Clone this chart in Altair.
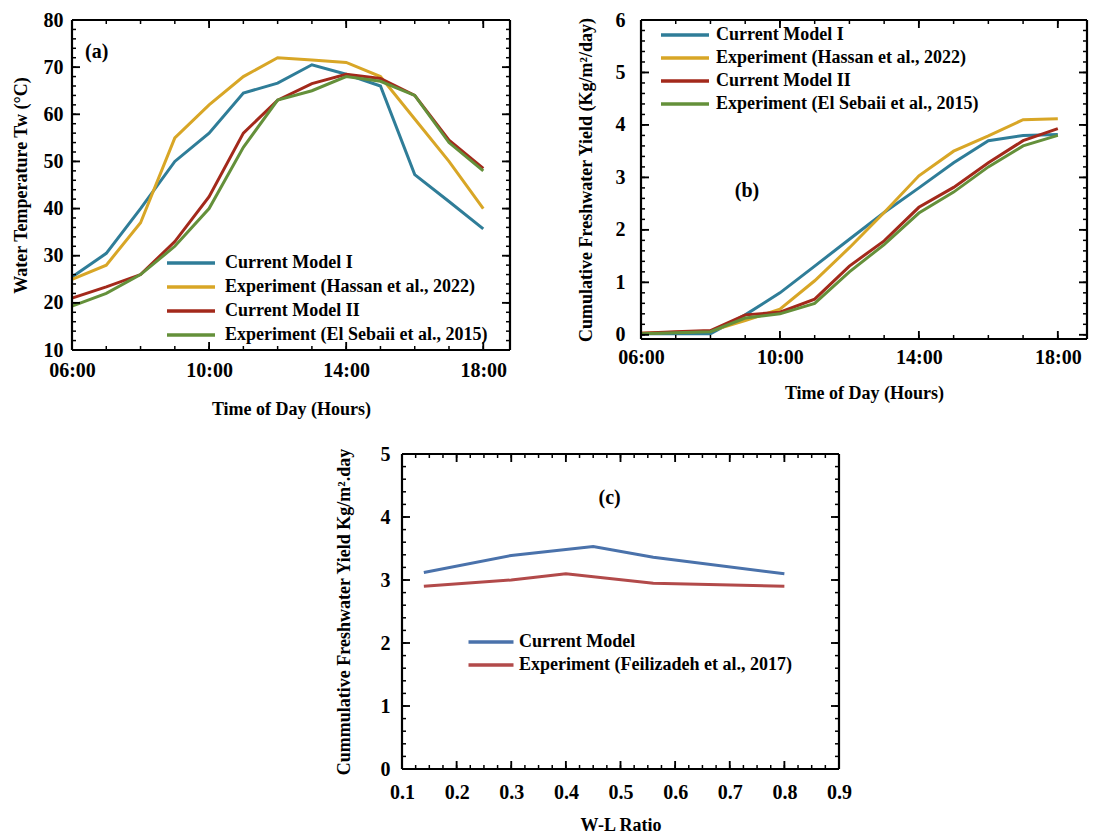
import altair as alt
import pandas as pd

FONT = "Liberation Serif"

# ---------------- data ----------------
hours = list(range(6, 19))
a_names = ["Current  Model I", "Experiment (Hassan et al., 2022)",
           "Current  Model II", "Experiment (El Sebaii et al., 2015)"]
a_model1 = [25.5, 30.5, 40, 50, 56, 64.5, 66.6, 70.5, 68.5, 66, 47.2, 41.5, 35.7]
a_hassan = [25, 28, 37, 55, 62, 68, 72, 71.5, 71, 68, 59, 50, 40]
a_model2 = [21, 23.4, 26, 33, 42.5, 56, 63, 66.5, 68.5, 67.6, 64, 54.5, 48.5]
a_sebaii = [19.3, 22, 26, 32, 40, 53, 63, 65, 68, 67, 64, 54, 48]

b_names = ["Current Model I", "Experiment (Hassan et al., 2022)",
           "Current Model II", "Experiment (El Sebaii et al., 2015)"]
b_model1 = [0.02, 0.02, 0.02, 0.38, 0.8, 1.31, 1.82, 2.33, 2.8, 3.28, 3.7, 3.8, 3.82]
b_hassan = [0.03, 0.05, 0.07, 0.27, 0.49, 1.03, 1.66, 2.33, 3.03, 3.5, 3.79, 4.1, 4.12]
b_model2 = [0.03, 0.06, 0.08, 0.38, 0.43, 0.68, 1.31, 1.79, 2.43, 2.81, 3.28, 3.7, 3.93]
b_sebaii = [0.02, 0.04, 0.06, 0.32, 0.4, 0.6, 1.2, 1.72, 2.32, 2.72, 3.2, 3.6, 3.8]

c_names = ["Current Model", "Experiment  (Feilizadeh et al., 2017)"]
c_ratio_model = [0.14, 0.3, 0.45, 0.56, 0.8]
c_model = [3.12, 3.39, 3.53, 3.36, 3.1]
c_ratio_exp = [0.14, 0.3, 0.4, 0.56, 0.8]
c_exp = [2.9, 3.0, 3.1, 2.95, 2.9]

ab_colors = ["#2f7d98", "#d8a626", "#a3291b", "#64903a"]
c_colors = ["#4a72ab", "#b24a4a"]


def long_df(xs_list, ys_list, names):
    rows = []
    for k, (xs, ys, n) in enumerate(zip(xs_list, ys_list, names)):
        for x, y in zip(xs, ys):
            rows.append({"x": x, "y": y, "s": n, "k": k})
    return pd.DataFrame(rows)


def frange(a, b, step):
    out = []
    n = int(round((b - a) / step))
    for i in range(n + 1):
        out.append(round(a + i * step, 6))
    return out


def frame_table(xdom, ydom, w, h, xmaj, xmin, ymaj, ymin):
    """Frame edges plus inward ticks on the four sides (segments in data units)."""
    px_x = (xdom[1] - xdom[0]) / w
    px_y = (ydom[1] - ydom[0]) / h
    rows = [
        {"x": xdom[0], "x2": xdom[1], "y": ydom[0], "y2": ydom[0], "big": 2},
        {"x": xdom[0], "x2": xdom[1], "y": ydom[1], "y2": ydom[1], "big": 2},
        {"x": xdom[0], "x2": xdom[0], "y": ydom[0], "y2": ydom[1], "big": 2},
        {"x": xdom[1], "x2": xdom[1], "y": ydom[0], "y2": ydom[1], "big": 2},
    ]
    for vals, L, big in [(ymaj, 8, 1), (ymin, 4, 0)]:
        for v in vals:
            rows.append({"x": xdom[0], "x2": xdom[0] + L * px_x, "y": v, "y2": v, "big": big})
            rows.append({"x": xdom[1], "x2": xdom[1] - L * px_x, "y": v, "y2": v, "big": big})
    for vals, L, big in [(xmaj, 8, 1), (xmin, 4, 0)]:
        for v in vals:
            rows.append({"x": v, "x2": v, "y": ydom[0], "y2": ydom[0] + L * px_y, "big": big})
            rows.append({"x": v, "x2": v, "y": ydom[1], "y2": ydom[1] - L * px_y, "big": big})
    return pd.DataFrame(rows)


def axis_common(**kw):
    base = dict(ticks=False, domain=False, grid=False, labelFont=FONT, labelFontSize=20,
                labelFontWeight="bold", labelColor="black", titleFont=FONT, titleFontSize=18,
                titleFontWeight="bold", titleColor="black", labelFlush=False, labelOverlap=False)
    base.update(kw)
    return alt.Axis(**base)


def legend(x, y, spacing, half, offset):
    return alt.Legend(orient="none", legendX=x, legendY=y, title=None,
                      symbolType=f"M-{half},0H{half}",
                      symbolStrokeWidth=3.5, symbolSize=100, labelFont=FONT, labelFontSize=18,
                      labelFontWeight="bold", labelColor="black", labelLimit=0, rowPadding=spacing,
                      labelOffset=offset, padding=0)


time_label = "(datum.value < 10 ? '0' : '') + datum.value + ':00'"


def panel(df, names, colors, xdom, ydom, xaxis, yaxis, w, h, leg, label, ticks):
    xscale = alt.Scale(domain=xdom, nice=False, zero=False)
    yscale = alt.Scale(domain=ydom, nice=False, zero=False)
    lines = alt.Chart(df).mark_line(strokeWidth=3).encode(
        x=alt.X("x:Q", scale=xscale, axis=xaxis),
        y=alt.Y("y:Q", scale=yscale, axis=yaxis),
        color=alt.Color("s:N", scale=alt.Scale(domain=names, range=colors), legend=leg),
        order="k:Q",
    )
    frame = alt.Chart(frame_table(xdom, ydom, w, h, *ticks)).mark_rule(color="black").encode(
        x=alt.X("x:Q", scale=xscale, axis=xaxis),
        y=alt.Y("y:Q", scale=yscale, axis=yaxis),
        x2="x2:Q", y2="y2:Q",
        strokeWidth=alt.StrokeWidth("big:O", scale=alt.Scale(domain=[0, 1, 2], range=[1.5, 2.2, 2.5]),
                                    legend=None),
    )
    lab = alt.Chart(pd.DataFrame({"x": [label[0]], "y": [label[1]], "t": [label[2]]})).mark_text(
        font=FONT, fontSize=20, fontWeight="bold", align=label[3], color="black").encode(
        x=alt.X("x:Q", scale=xscale, axis=xaxis), y=alt.Y("y:Q", scale=yscale, axis=yaxis), text="t:N")
    return alt.layer(lines, lab, frame).properties(width=w, height=h)


# ---------------- panel (a) ----------------
Wa, Ha = 438, 330
xa_axis = axis_common(values=[6, 10, 14, 18], labelExpr=time_label,
                      title="Time of Day (Hours)", labelPadding=10, titlePadding=20)
ya_axis = axis_common(values=list(range(10, 81, 10)), format="d",
                      title="Water Temperature Tw (°C)", labelPadding=9, titlePadding=13)
dfa = long_df([hours] * 4, [a_model1, a_hassan, a_model2, a_sebaii], a_names)
panel_a = panel(dfa, a_names, ab_colors, [6, 18.78], [10, 80], xa_axis, ya_axis, Wa, Ha,
                legend(110, 234, 6, 4.8, 25),
                (6.38, 73.2, "(a)", "left"),
                ([6, 10, 14, 18], hours, list(range(10, 81, 10)), frange(10, 80, 2)))

# ---------------- panel (b) ----------------
Wb, Hb = 446, 319
xb_axis = axis_common(values=[6, 10, 14, 18], labelExpr=time_label,
                      title="Time of Day (Hours)", labelPadding=8, titlePadding=17)
yb_axis = axis_common(values=list(range(0, 7)), format="d",
                      title="Cumulative Freshwater Yield (Kg/m²/day)",
                      labelPadding=16, titlePadding=20)
dfb = long_df([hours] * 4, [b_model1, b_hassan, b_model2, b_sebaii], b_names)
panel_b = panel(dfb, b_names, ab_colors, [6, 18.84], [-0.08, 6], xb_axis, yb_axis, Wb, Hb,
                legend(35, 6, 5, 4.8, 22),
                (9.05, 2.75, "(b)", "center"),
                ([6, 10, 14, 18], hours, list(range(0, 7)), frange(0, 6, 0.2)))

# ---------------- panel (c) ----------------
Wc, Hc = 437, 315
xc_axis = axis_common(values=frange(0.1, 0.9, 0.1), format=".1f",
                      title="W-L Ratio", labelPadding=13, titlePadding=14)
yc_axis = axis_common(values=list(range(0, 6)), format="d",
                      title="Cummulative Freshwater Yield Kg/m².day",
                      labelPadding=12, titlePadding=27)
dfc = long_df([c_ratio_model, c_ratio_exp], [c_model, c_exp], c_names)
panel_c = panel(dfc, c_names, c_colors, [0.1, 0.9], [0, 5], xc_axis, yc_axis, Wc, Hc,
                legend(80, 179, 5, 4.5, 19),
                (0.48, 4.3, "(c)", "center"),
                (frange(0.1, 0.9, 0.1), frange(0.1, 0.9, 0.025), list(range(0, 6)), frange(0, 5, 0.2)))

spacer = alt.Chart(pd.DataFrame({"z": [0]})).mark_point(opacity=0).encode(
    x=alt.X("z:Q", axis=None), y=alt.Y("z:Q", axis=None)
).properties(width=233, height=10)

top = alt.hconcat(panel_a, panel_b, spacing=65).resolve_scale(color="independent", strokeWidth="independent")
bottom = alt.hconcat(spacer, panel_c, spacing=30).resolve_scale(color="independent", strokeWidth="independent")
chart = alt.vconcat(top, bottom, spacing=26).resolve_scale(
    color="independent", strokeWidth="independent").properties(
    padding={"left": 12, "top": 10, "right": 2, "bottom": 2}, background="white"
).configure_view(strokeWidth=0)

chart.save("out.html", embed_options={"renderer": "svg", "actions": False})
